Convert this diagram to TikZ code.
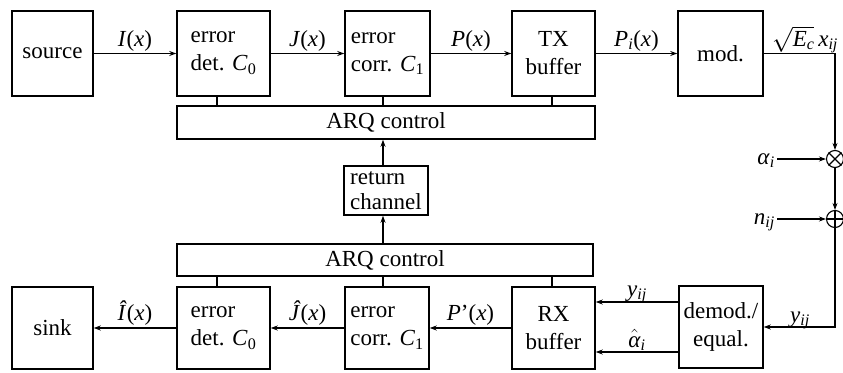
\documentclass[tikz,border=0pt]{standalone}
\usepackage{fontspec}
\setmainfont{Liberation Serif}
\usetikzlibrary{arrows.meta}
\newcommand\bigfont{\fontsize{23}{28}\selectfont}
\newcommand\tightfont{\fontsize{23}{25}\selectfont}
\begin{document}
\begin{tikzpicture}[x=1pt,y=-1pt,
  box/.style={draw, line width=1.5pt, inner sep=0pt, font=\bigfont, align=center},
  lbl/.style={font=\bigfont, inner sep=2pt},
  conn/.style={line width=1.1pt},
  arr/.style={conn, -{Stealth[length=7pt,width=5pt]}},
  sumc/.style={draw, circle, line width=1.1pt, minimum size=17pt, inner sep=0pt}]
\useasboundingbox (0,0) rectangle (843,372);
% x positions of the stubs
\coordinate (c1) at (217,0);
\coordinate (c2) at (383,0);
\coordinate (c3) at (552,0);
\coordinate (yY) at (0,302);
\coordinate (yA) at (0,352);
% top row
\node[box, minimum width=81pt, minimum height=85pt] (src) at (52.5,53.5) {source};
\node[box, minimum width=93pt, minimum height=85pt, align=left] (det) at (223.5,53.5) {error\\det. \textit{C}\textsubscript{0}};
\node[box, minimum width=85pt, minimum height=85pt, align=left] (corr) at (387.5,53.5) {error\\corr. \textit{C}\textsubscript{1}};
\node[box, minimum width=83pt, minimum height=85pt] (tx) at (553.5,53.5) {TX\\buffer};
\node[box, minimum width=85pt, minimum height=85pt] (mod) at (720.5,53.5) {mod.};
\node[box, minimum width=418pt, minimum height=33pt] (arqT) at (386,122.5) {ARQ control};
\node[box, minimum width=84pt, minimum height=49pt, align=left, font=\tightfont] (ret) at (386,190.5) {return\\channel};
\node[box, minimum width=416pt, minimum height=32pt] (arqB) at (385,260) {ARQ control};
% bottom row
\node[box, minimum width=81pt, minimum height=82pt] (sink) at (52.5,328) {sink};
\node[box, minimum width=93pt, minimum height=82pt, align=left] (detB) at (223.5,328) {error\\det. \textit{C}\textsubscript{0}};
\node[box, minimum width=84pt, minimum height=82pt, align=left] (corrB) at (387,328) {error\\corr. \textit{C}\textsubscript{1}};
\node[box, minimum width=83pt, minimum height=82pt] (rx) at (553.5,328) {RX\\buffer};
\node[box, minimum width=84pt, minimum height=82pt] (dem) at (721,327) {demod./\\equal.};
% channel
\node[sumc] (mul) at (835,159) {};
\draw[conn] (mul.north west) -- (mul.south east) (mul.north east) -- (mul.south west);
\node[sumc] (add) at (835,219) {};
\draw[conn] (add.north) -- (add.south) (add.west) -- (add.east);
% top arrows
\draw[arr] (src) -- (det) node[midway, above, lbl] {\textit{I}(\textit{x})};
\draw[arr] (det) -- (corr) node[midway, above, lbl] {\textit{J}(\textit{x})};
\draw[arr] (corr) -- (tx) node[midway, above, lbl] {\textit{P}(\textit{x})};
\draw[arr] (tx) -- (mod) node[midway, above, lbl] {\textit{P}\textsubscript{\textit{i}}(\textit{x})};
\draw[arr] (mod.east) -| (mul.north);
\node[lbl, anchor=base] (sq) at (805,46) {$\sqrt{\hbox{\textit{E}\textsubscript{\textit{c}}}}$\,\textit{x}\textsubscript{\textit{ij}}};
% stubs to ARQ
\draw[conn] (det.south -| c1) -- (arqT.north -| c1);
\draw[conn] (corr.south -| c2) -- (arqT.north -| c2);
\draw[conn] (tx.south -| c3) -- (arqT.north -| c3);
\draw[conn] (detB.north -| c1) -- (arqB.south -| c1);
\draw[conn] (corrB.north -| c2) -- (arqB.south -| c2);
\draw[conn] (rx.north -| c3) -- (arqB.south -| c3);
% return path
\draw[arr] (arqB.north -| c2) -- (ret.south -| c2);
\draw[arr] (ret.north -| c2) -- (arqT.south -| c2);
% channel inputs
\node[lbl, anchor=base east] (alab) at (777,164) {\textit{α}\textsubscript{\textit{i}}};
\draw[arr] (alab.east |- mul) -- (mul.west);
\node[lbl, anchor=base east] (nlab) at (777,224) {\textit{n}\textsubscript{\textit{ij}}};
\draw[arr] (nlab.east |- add) -- (add.west);
\draw[arr] (mul) -- (add);
\draw[arr] (add.south) |- (dem.east);
\node[lbl, anchor=base] (yin) at (800,322) {\textit{y}\textsubscript{\textit{ij}}};
% receiver arrows
\draw[arr] (dem.west |- yY) -- (rx.east |- yY);
\node[lbl, anchor=base] (yout) at (637,296) {\textit{y}\textsubscript{\textit{ij}}};
\draw[arr] (dem.west |- yA) -- (rx.east |- yA);
\node[lbl, anchor=base] (aout) at (637,347) {$\hat{\hbox{\textit{α}}}$\textsubscript{\textit{i}}};
\draw[arr] (rx) -- (corrB) node[midway, above, lbl] {\textit{P}'(\textit{x})};
\draw[arr] (corrB) -- (detB) node[midway, above, lbl] {\textit{Ĵ}(\textit{x})};
\draw[arr] (detB) -- (sink) node[midway, above, lbl] {\textit{Î}(\textit{x})};
\end{tikzpicture}
\end{document}
